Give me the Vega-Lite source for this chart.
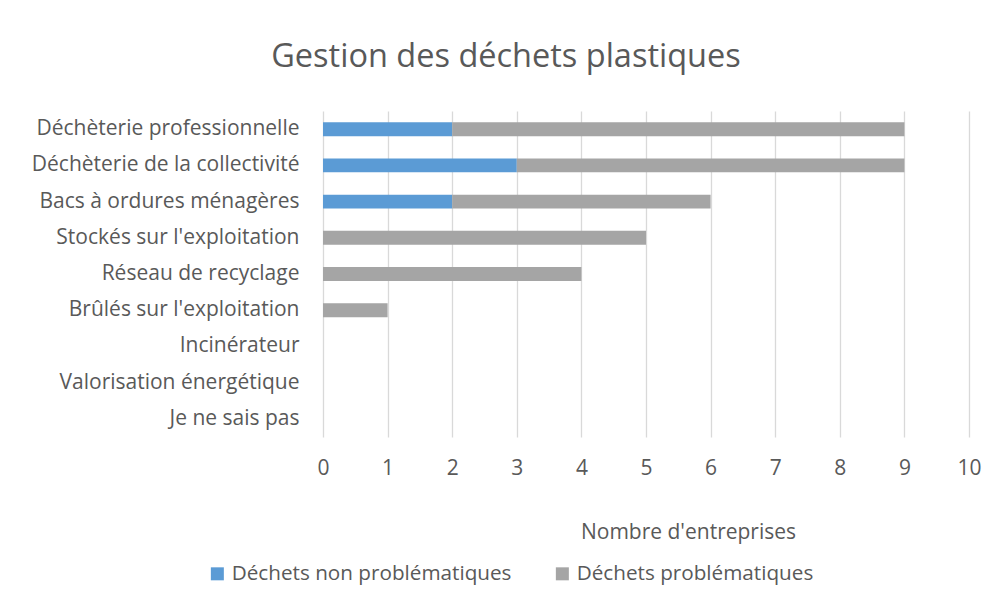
{
  "$schema": "https://vega.github.io/schema/vega-lite/v6.json",
  "autosize": "none",
  "width": 646,
  "height": 326,
  "padding": {"left": 323, "top": 111, "right": 29, "bottom": 169},
  "background": "white",
  "title": {
    "text": "Gestion des déchets plastiques",
    "font": "Open Sans",
    "fontSize": 32.5,
    "fontWeight": "normal",
    "color": "#595959",
    "anchor": "middle",
    "dx": -140,
    "offset": 38
  },
  "data": {
    "values": [
      {"cat": "Déchèterie professionnelle\u00a0", "type": "Déchets non problématiques", "ord": 1, "n": 2},
      {"cat": "Déchèterie professionnelle\u00a0", "type": "Déchets problématiques", "ord": 2, "n": 7},
      {"cat": "Déchèterie de la collectivité\u00a0", "type": "Déchets non problématiques", "ord": 1, "n": 3},
      {"cat": "Déchèterie de la collectivité\u00a0", "type": "Déchets problématiques", "ord": 2, "n": 6},
      {"cat": "Bacs à ordures ménagères", "type": "Déchets non problématiques", "ord": 1, "n": 2},
      {"cat": "Bacs à ordures ménagères", "type": "Déchets problématiques", "ord": 2, "n": 4},
      {"cat": "Stockés sur l'exploitation", "type": "Déchets non problématiques", "ord": 1, "n": 0},
      {"cat": "Stockés sur l'exploitation", "type": "Déchets problématiques", "ord": 2, "n": 5},
      {"cat": "Réseau de recyclage", "type": "Déchets non problématiques", "ord": 1, "n": 0},
      {"cat": "Réseau de recyclage", "type": "Déchets problématiques", "ord": 2, "n": 4},
      {"cat": "Brûlés sur l'exploitation", "type": "Déchets non problématiques", "ord": 1, "n": 0},
      {"cat": "Brûlés sur l'exploitation", "type": "Déchets problématiques", "ord": 2, "n": 1},
      {"cat": "Incinérateur", "type": "Déchets non problématiques", "ord": 1, "n": 0},
      {"cat": "Incinérateur", "type": "Déchets problématiques", "ord": 2, "n": 0},
      {"cat": "Valorisation énergétique", "type": "Déchets non problématiques", "ord": 1, "n": 0},
      {"cat": "Valorisation énergétique", "type": "Déchets problématiques", "ord": 2, "n": 0},
      {"cat": "Je ne sais pas\u00a0", "type": "Déchets non problématiques", "ord": 1, "n": 0},
      {"cat": "Je ne sais pas\u00a0", "type": "Déchets problématiques", "ord": 2, "n": 0}
    ]
  },
  "mark": {"type": "bar"},
  "encoding": {
    "y": {
      "field": "cat",
      "type": "nominal",
      "sort": null,
      "scale": {"paddingInner": 0.615, "paddingOuter": 0.31},
      "axis": {
        "title": null,
        "domain": false,
        "ticks": false,
        "grid": false,
        "labelFont": "Open Sans",
        "labelFontSize": 21,
        "labelColor": "#595959",
        "labelPadding": 24,
        "labelLimit": 400
      }
    },
    "x": {
      "field": "n",
      "type": "quantitative",
      "stack": "zero",
      "scale": {"domain": [0, 10], "nice": false},
      "axis": {
        "title": "Nombre d'entreprises",
        "values": [0, 1, 2, 3, 4, 5, 6, 7, 8, 9, 10],
        "domain": false,
        "ticks": false,
        "grid": true,
        "gridColor": "#D9D9D9",
        "gridWidth": 1.3,
        "labelFlush": false,
        "labelFont": "Open Sans",
        "labelFontSize": 21,
        "labelColor": "#595959",
        "labelPadding": 20,
        "titleFont": "Open Sans",
        "titleFontSize": 21,
        "titleFontWeight": "normal",
        "titleColor": "#595959",
        "titleX": 365,
        "titleY": 95,
        "titleBaseline": "middle",
        "titleAlign": "center"
      }
    },
    "color": {
      "field": "type",
      "type": "nominal",
      "scale": {
        "domain": ["Déchets non problématiques", "Déchets problématiques"],
        "range": ["#5B9BD5", "#A5A5A5"]
      },
      "legend": {
        "title": null,
        "orient": "none",
        "direction": "horizontal",
        "legendX": -116,
        "legendY": 452,
        "symbolType": "square",
        "symbolSize": 169,
        "symbolStrokeWidth": 0,
        "labelFont": "Open Sans",
        "labelFontSize": 20.7,
        "labelColor": "#595959",
        "labelOffset": 4,
        "columnPadding": 40,
        "labelLimit": 400
      }
    },
    "order": {"field": "ord", "type": "quantitative"}
  },
  "config": {
    "view": {"stroke": null}
  }
}
